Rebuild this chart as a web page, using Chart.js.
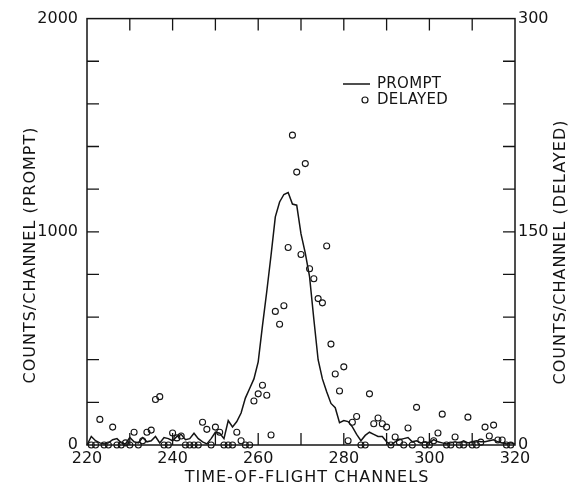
<!DOCTYPE html>
<html>
<head>
<meta charset="utf-8">
<script src="https://cdn.jsdelivr.net/npm/chart.js@4.4.0/dist/chart.umd.min.js"></script>
<style>
  html, body { margin: 0; padding: 0; background: #fff; }
</style>
</head>
<body>
<canvas id="tofChart" width="575" height="487"></canvas>
<script>
// time-of-flight channels for the prompt curve
const promptChannels = [
  220, 221, 222, 223, 224, 225, 226, 227, 228, 229,
  230, 231, 232, 233, 234, 235, 236, 237, 238, 239,
  240, 241, 242, 243, 244, 245, 246, 247, 248, 249,
  250, 251, 252, 253, 254, 255, 256, 257, 258, 259,
  260, 261, 262, 263, 264, 265, 266, 267, 268, 269,
  270, 271, 272, 273, 274, 275, 276, 277, 278, 279,
  280, 281, 282, 283, 284, 285, 286, 287, 288, 289,
  290, 291, 292, 293, 294, 295, 296, 297, 298, 299,
  300, 301, 302, 303, 304, 305, 306, 307, 308, 309,
  310, 311, 312, 313, 314, 315, 316, 317, 318, 319, 320
]
const promptCounts = [
  0, 40, 20, 10, 5, 10, 25, 30, 10, 5,
  35, 15, 10, 35, 15, 20, 40, 10, 35, 30,
  20, 40, 50, 25, 30, 55, 30, 15, 5, 30,
  60, 55, 30, 115, 85, 110, 150, 220, 265, 310,
  390, 560, 720, 890, 1070, 1140, 1175, 1184, 1130, 1125,
  990, 900, 790, 590, 400, 310, 250, 195, 175, 105,
  115, 110, 85, 50, 20, 45, 60, 50, 40, 40,
  15, 0, 15, 25, 30, 35, 15, 20, 10, 15,
  10, 25, 15, 10, 5, 10, 15, 10, 20, 10,
  15, 20, 15, 15, 20, 25, 15, 10, 5, 10, 5
]

// delayed counts (right axis)
const delayedChannels = [
  221, 222, 223, 224, 225, 226, 227, 228, 229,
  230, 231, 232, 233, 234, 235, 236, 237, 238, 239,
  240, 241, 242, 243, 244, 245, 246, 247, 248, 249,
  250, 251, 252, 253, 254, 255, 256, 257, 258, 259,
  260, 261, 262, 263, 264, 265, 266, 267, 268, 269,
  270, 271, 272, 273, 274, 275, 276, 277, 278, 279,
  280, 281, 282, 283, 284, 285, 286, 287, 288, 289,
  290, 291, 292, 293, 294, 295, 296, 297, 298, 299,
  300, 301, 302, 303, 304, 305, 306, 307, 308, 309,
  310, 311, 312, 313, 314, 315, 316, 317, 318, 319
]
const delayedCounts = [
  0, 0, 18, 0, 0, 12.6, 0, 0, 1.5,
  0, 9, 0, 3, 9, 10.5, 32, 34, 0, 0,
  8.4, 5, 6.3, 0, 0, 0, 0, 16, 11, 0,
  12.6, 9, 0, 0, 0, 9, 3, 0, 0, 31,
  36, 42, 35, 7, 94, 85, 98, 139, 218, 192,
  134, 198, 124, 117, 103, 100, 140, 71, 50, 38,
  55, 3, 16, 20, 0, 0, 36, 15, 19, 15,
  12.6, 0, 5.6, 2, 0, 12, 0, 26.5, 3.5, 0,
  0, 3, 8.4, 21.7, 0, 0, 5.6, 0, 0, 19.6,
  0, 0, 2, 12.6, 6.3, 14, 3.5, 3.5, 0, 0
]

const xTitle = 'TIME-OF-FLIGHT CHANNELS'
const leftTitle = 'COUNTS/CHANNEL (PROMPT)'
const rightTitle = 'COUNTS/CHANNEL (DELAYED)'

const ink = '#141414'
const fontFam = '"DejaVu Sans", sans-serif'

// frame, inward ticks, titles and legend
const framePlugin = {
  id: 'frame',
  afterDraw(chart) {
    const c = chart.ctx
    const a = chart.chartArea
    const tick = 12
    c.save()
    c.strokeStyle = ink
    c.lineWidth = 1.5
    c.strokeRect(a.left, a.top, a.right - a.left, a.bottom - a.top)

    c.lineWidth = 1.3
    c.beginPath()
    const xs = chart.scales.x
    xs.ticks.forEach(t => {
      const px = xs.getPixelForValue(t.value)
      if (t.value <= xs.min || t.value >= xs.max) return
      c.moveTo(px, a.bottom); c.lineTo(px, a.bottom - tick)
      c.moveTo(px, a.top); c.lineTo(px, a.top + tick)
    })
    const ys = chart.scales.y
    ys.ticks.forEach(t => {
      if (t.value <= ys.min || t.value >= ys.max) return
      const py = ys.getPixelForValue(t.value)
      c.moveTo(a.left, py); c.lineTo(a.left + tick, py)
    })
    const y2 = chart.scales.y2
    y2.ticks.forEach(t => {
      if (t.value <= y2.min || t.value >= y2.max) return
      const py = y2.getPixelForValue(t.value)
      c.moveTo(a.right, py); c.lineTo(a.right - tick, py)
    })
    c.stroke()

    // axis titles
    c.fillStyle = ink
    c.font = '16px ' + fontFam
    c.letterSpacing = '1px'
    c.textAlign = 'center'
    c.textBaseline = 'middle'
    c.fillText(xTitle, 307, 478)

    c.save()
    c.translate(31, 255)
    c.rotate(-Math.PI / 2)
    c.fillText(leftTitle, 0, 0)
    c.restore()

    c.save()
    c.translate(561, 252)
    c.rotate(-Math.PI / 2)
    c.fillText(rightTitle, 0, 0)
    c.restore()

    // legend
    c.font = '15px ' + fontFam
    c.letterSpacing = '0.3px'
    c.textAlign = 'left'
    c.lineWidth = 1.5
    c.beginPath()
    c.moveTo(343, 84); c.lineTo(370, 84)
    c.stroke()
    c.fillText('PROMPT', 377, 84)
    c.lineWidth = 1.2
    c.beginPath()
    c.arc(365, 100, 3, 0, Math.PI * 2)
    c.stroke()
    c.fillText('DELAYED', 377, 100)
    c.restore()
  }
}

const tickFont = { family: fontFam, size: 16 }

const data = {
  datasets: [{
    label: 'PROMPT',
    type: 'line',
    data: promptChannels.map((ch, i) => ({ x: ch, y: promptCounts[i] })),
    yAxisID: 'y',
    borderColor: ink,
    borderWidth: 1.5,
    pointRadius: 0,
    tension: 0,
    fill: false,
    clip: false
  }, {
    label: 'DELAYED',
    type: 'scatter',
    data: delayedChannels.map((ch, i) => ({ x: ch, y: delayedCounts[i] })),
    yAxisID: 'y2',
    showLine: false,
    pointStyle: 'circle',
    pointRadius: 3,
    pointBorderWidth: 1.1,
    pointBorderColor: ink,
    pointBackgroundColor: 'rgba(0,0,0,0)',
    clip: false
  }]
}

const config = {
  type: 'line',
  data,
  options: {
    responsive: false,
    devicePixelRatio: 1,
    animation: false,
    layout: { padding: { top: 16, left: 0, right: 0, bottom: 0 } },
    plugins: { legend: { display: false }, tooltip: { enabled: false } },
    scales: {
      x: {
        type: 'linear',
        min: 220,
        max: 320,
        grid: { display: false, drawTicks: false },
        border: { display: false },
        ticks: {
          stepSize: 10,
          autoSkip: false,
          maxRotation: 0,
          padding: 4,
          color: ink,
          font: tickFont,
          callback: v => (v % 20 === 0 ? v : '')
        },
        afterFit: s => { s.height = 42 }
      },
      y: {
        position: 'left',
        min: 0,
        max: 2000,
        grid: { display: false, drawTicks: false },
        border: { display: false },
        ticks: {
          stepSize: 200,
          padding: 9,
          color: ink,
          font: tickFont,
          callback: v => (v % 1000 === 0 ? v : '')
        },
        afterFit: s => { s.width = 87 }
      },
      y2: {
        position: 'right',
        min: 0,
        max: 300,
        grid: { display: false, drawTicks: false },
        border: { display: false },
        ticks: {
          stepSize: 30,
          padding: 3,
          color: ink,
          font: tickFont,
          callback: v => (v % 150 === 0 ? v : '')
        },
        afterFit: s => { s.width = 60 }
      }
    }
  },
  plugins: [framePlugin]
}

const tofChart = new Chart(document.getElementById('tofChart'), config)
</script>
</body>
</html>
